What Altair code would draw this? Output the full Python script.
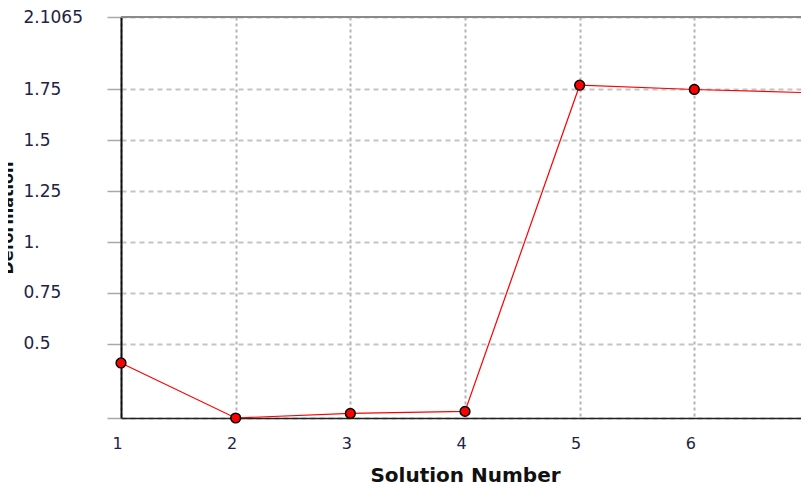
import altair as alt
import pandas as pd

solution = [1, 2, 3, 4, 5, 6, 7]
value = [0.405, 0.1345, 0.157, 0.167, 1.771, 1.750, 1.734]
y_min = 0.1345
y_max = 2.1065
y_ticks = [0.1345, 0.5, 0.75, 1.0, 1.25, 1.5, 1.75, 2.1065]
x_ticks = [1, 2, 3, 4, 5, 6, 7]

df = pd.DataFrame({"sol": solution, "val": value})

x_enc = alt.X(
    "sol:Q",
    scale=alt.Scale(domain=[1, 7], nice=False, zero=False),
    axis=alt.Axis(
        values=x_ticks,
        title="Solution Number",
        titleFont="DejaVu Sans",
        titleFontSize=20,
        titleFontWeight="bold",
        titleColor="#111111",
        titleBaseline="alphabetic",
        titleY=63,
        labelFont="DejaVu Sans",
        labelFontSize=16,
        labelColor="#222244",
        labelOffset=-4,
        labelPadding=25,
        labelBaseline="middle",
        labelFlush=False,
        tickSize=0,
        domainColor="#222222",
        domainWidth=1.5,
        grid=True,
        gridColor="#b4b4b4",
        gridWidth=2,
        gridDash=[3, 3],
        format="d",
    ),
)

y_enc = alt.Y(
    "val:Q",
    scale=alt.Scale(domain=[y_min, y_max], nice=False, zero=False),
    axis=alt.Axis(
        values=y_ticks,
        labelExpr="datum.value == 1 ? '1.' : (datum.value < 0.2 ? '' : '' + datum.value)",
        title="Deformation",
        titleFont="DejaVu Sans",
        titleFontSize=16,
        titleFontWeight="bold",
        titleColor="#111111",
        titleX=-109,
        titleBaseline="alphabetic",
        labelFont="DejaVu Sans",
        labelFontSize=17,
        labelColor="#222244",
        labelAlign="left",
        labelPadding=84,
        labelFlush=False,
        tickSize=14,
        tickColor="#a8a8a8",
        tickWidth=1.5,
        domainColor="#111111",
        domainWidth=2,
        grid=True,
        gridColor="#c4c4c4",
        gridWidth=2,
        gridDash=[5, 4],
    ),
)

top_rule = alt.Chart(df).mark_rule(color="#8a8a8a", strokeWidth=1.5).encode(
    y=alt.datum(y_max)
)

line = alt.Chart(df).mark_line(color="#ff0000", strokeWidth=1.2).encode(x=x_enc, y=y_enc)
pts = alt.Chart(df).mark_point(
    filled=True, shape="circle", size=95, color="#ff0000", stroke="#000000", strokeWidth=1.5, opacity=1
).encode(x="sol:Q", y="val:Q")

chart = (
    alt.layer(line, top_rule, pts)
    .properties(
        width=688,
        height=401,
        autosize=alt.AutoSizeParams(type="none"),
        padding={"left": 113, "top": 9, "right": -8, "bottom": 66},
        background="white",
    )
    .configure_view(stroke=None)
)

chart.save("out.html", embed_options={"renderer": "svg", "actions": False})
